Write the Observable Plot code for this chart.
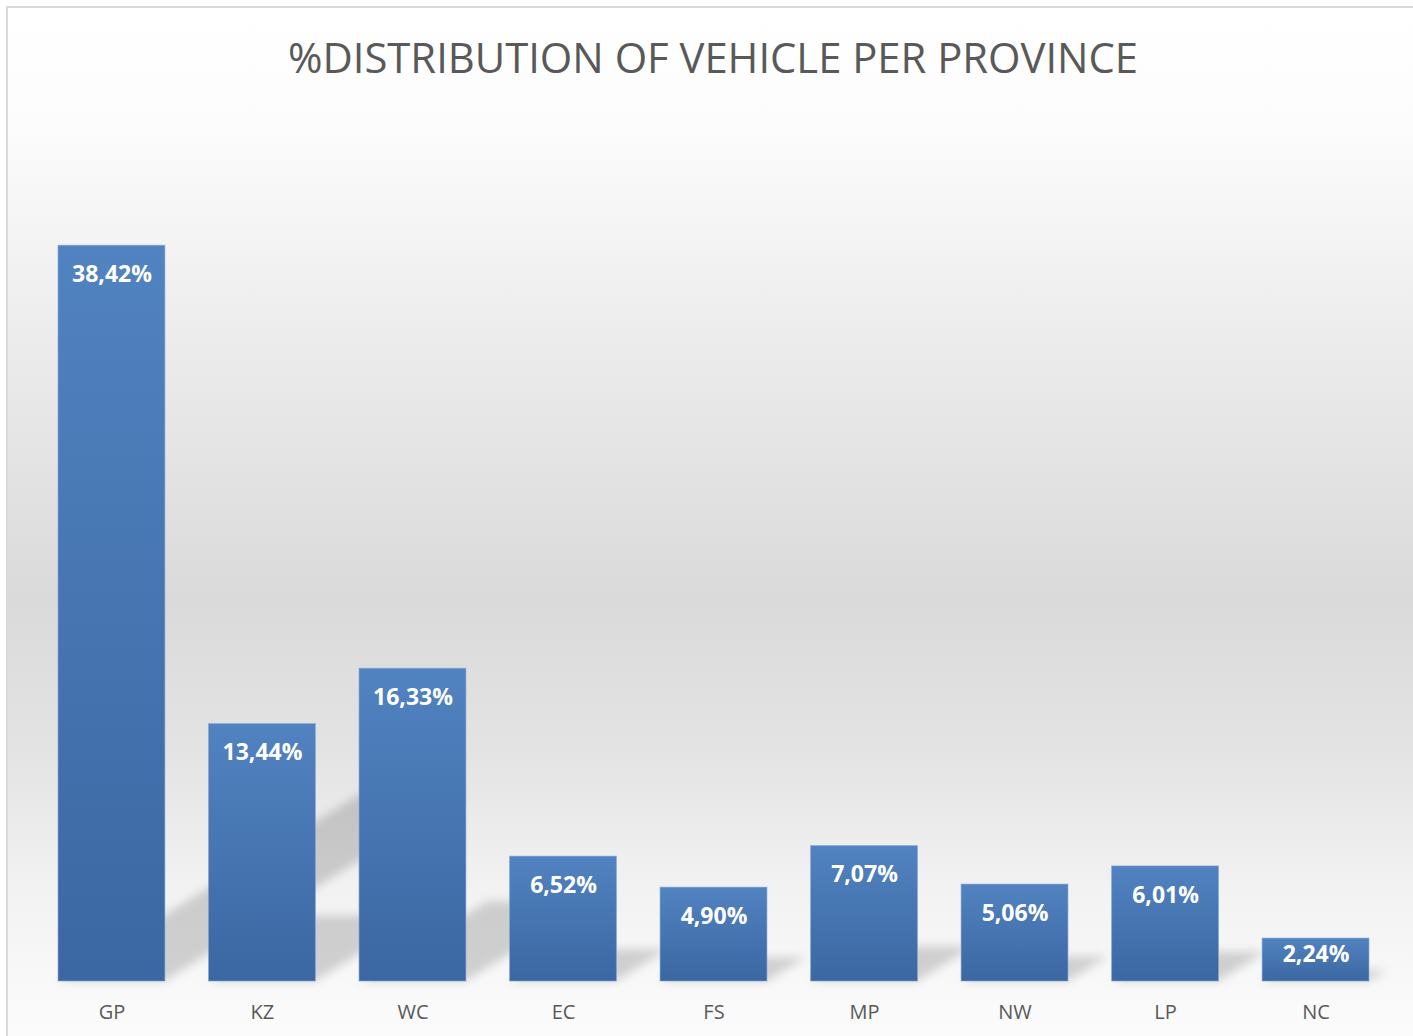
<!DOCTYPE html>
<html>
<head>
<meta charset="utf-8">
<script src="https://cdn.jsdelivr.net/npm/d3@7"></script>
<script src="https://cdn.jsdelivr.net/npm/@observablehq/plot@0.6"></script>
<style>
  html, body { margin: 0; padding: 0; background: #fff; }
  #wrap { position: relative; width: 1413px; height: 1036px; overflow: hidden; }
  #bg {
    position: absolute; left: 6px; top: 6px; width: 1430px; height: 1060px;
    border-left: 2px solid #d9d9d9; border-top: 2px solid #d9d9d9;
    background: linear-gradient(to bottom, #ffffff 0px, #fcfcfc 120px, #ececec 330px,
      #dadada 590px, #e3e3e3 740px, #f2f2f2 880px, #fafafa 1000px, #fcfcfc 1060px);
  }
  #title {
    position: absolute; top: 36px; left: 713px; white-space: nowrap;
    font-family: "Open Sans", sans-serif; font-size: 42px; line-height: 42px;
    color: #595959; transform-origin: 0 0;
  }
  #chart { position: absolute; left: 0; top: 0; }
</style>
</head>
<body>
<div id="wrap">
  <div id="bg"></div>
  <div id="title">%DISTRIBUTION OF VEHICLE PER PROVINCE</div>
  <div id="chart"></div>
</div>
<script>
const provinces = ["GP", "KZ", "WC", "EC", "FS", "MP", "NW", "LP", "NC"];
const shares = [38.42, 13.44, 16.33, 6.52, 4.90, 7.07, 5.06, 6.01, 2.24];

const data = provinces.map((p, i) => ({province: p, share: shares[i]}));
const fmt = v => v.toFixed(2).replace(".", ",") + "%";

// title fit
const t = document.getElementById("title");
const tw = t.getBoundingClientRect().width;
const k = 850 / tw;
t.style.transform = `translateX(${-425}px) scaleX(${k})`;

function defsMark() {
  const g = d3.create("svg:g");
  const defs = g.append("defs");
  const lg = defs.append("linearGradient").attr("id", "barGrad")
    .attr("x1", 0).attr("y1", 0).attr("x2", 0).attr("y2", 1);
  lg.append("stop").attr("offset", "0%").attr("stop-color", "#5183c0");
  lg.append("stop").attr("offset", "100%").attr("stop-color", "#3b67a2");
  const f = defs.append("filter").attr("id", "shadowBlur")
    .attr("x", "-20%").attr("y", "-20%").attr("width", "140%").attr("height", "140%");
  f.append("feGaussianBlur").attr("stdDeviation", 5);
  return g.node();
}

function shadowMark(index, scales) {
  const x = scales.x, y = scales.y;
  const bw = x.bandwidth();
  const g = d3.create("svg:g").attr("filter", "url(#shadowBlur)");
  for (const d of data) {
    const x1 = x(d.province), x2 = x1 + bw;
    const y0 = y(0), h = y0 - y(d.share);
    const L = 0.41 * h, dy = 0.62 * L;
    g.append("path")
      .attr("d", `M${x1},${y0}L${x2},${y0}L${x2 + L},${y0 - dy}L${x1 + L},${y0 - dy}Z`)
      .attr("fill", "#000").attr("fill-opacity", 0.16);
  }
  return g.node();
}

const plot = Plot.plot({
  width: 1413,
  height: 1036,
  marginTop: 215,
  marginBottom: 55,
  marginLeft: 36.2,
  marginRight: 22.2,
  style: {background: "transparent", fontFamily: "'Open Sans', sans-serif", fontSize: "20px", color: "#595959"},
  x: {domain: provinces, paddingInner: 0.29, paddingOuter: 0.145, round: false, axis: null},
  y: {domain: [0, 40], axis: null},
  marks: [
    defsMark,
    shadowMark,
    Plot.barY(data, {x: "province", y: "share", fill: "url(#barGrad)", stroke: "#7ea4d3", strokeWidth: 1, strokeOpacity: 0.6}),
    Plot.text(data.filter(d => d.share >= 3), {x: "province", y: "share", text: d => fmt(d.share), fill: "white", fontWeight: "bold", fontSize: 23, dy: 29, lineAnchor: "middle"}),
    Plot.text(data.filter(d => d.share < 3), {x: "province", y: "share", text: d => fmt(d.share), fill: "white", fontWeight: "bold", fontSize: 23, dy: 16, lineAnchor: "middle"}),
    Plot.axisX({tickSize: 0, tickPadding: 23, fontSize: 20, label: null})
  ]
});
document.getElementById("chart").appendChild(plot);
</script>
</body>
</html>
